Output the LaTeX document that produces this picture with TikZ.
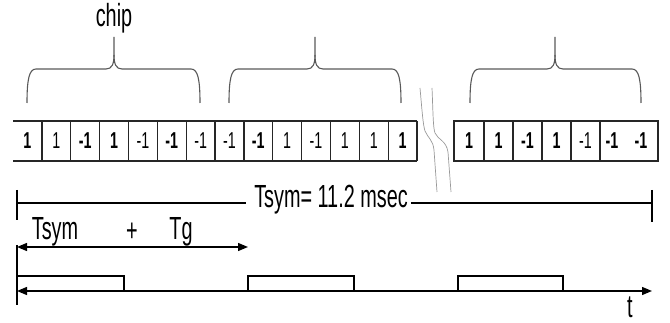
\documentclass[tikz,border=0pt]{standalone}
\usepackage{fontspec}
\setmainfont{Liberation Sans}
\usetikzlibrary{arrows.meta}

\newcommand{\nar}[1]{\scalebox{0.62}[1]{#1}}
% curly brace over a group of chips: left end, middle, right end
\newcommand{\chipbrace}[3]{%
  \draw[brace] (#1,103) .. controls (#1,80) and (#1+2,69) .. (#1+9,69)
    -- (#2-8,69) .. controls (#2-2,69) and (#2,64) .. (#2,55) -- (#2,37);
  \draw[brace] (#3,103) .. controls (#3,80) and (#3-2,69) .. (#3-9,69)
    -- (#2+8,69) .. controls (#2+2,69) and (#2,64) .. (#2,55);
}

\tikzset{
  lbl/.style={inner sep=0pt, font=\fontsize{32}{32}\selectfont},
  bitlbl/.style={inner sep=0pt, font=\fontsize{23}{23}\selectfont},
  brace/.style={draw=black!65, line width=1.1pt},
  wave/.style={draw=black!40, line width=0.7pt},
  cellline/.style={line width=1.3pt, black!85},
  axis/.style={line width=1.3pt},
}

\begin{document}
\begin{tikzpicture}[x=1pt, y=-1pt]
\useasboundingbox (0,0) rectangle (670,323);

% braces
\node[lbl] (chip) at (114,18) {\nar{chip}};
\chipbrace{27}{114}{200}
\chipbrace{229}{315}{401}
\chipbrace{470}{555}{641}

% chip cells, first block
\draw[cellline] (13,121) -- (417,121) (13,161) -- (417,161);
\foreach \i in {1,...,14}
  \draw[cellline] (13+\i*28.86,121) -- (13+\i*28.86,161);
\foreach \v [count=\i] in {\textbf{1},1,\textbf{-1},\textbf{1},-1,\textbf{-1},-1,
                           -1,\textbf{-1},1,-1,1,1,\textbf{1}}
  \node[bitlbl] (a\i) at (13+\i*28.86-14.43,141) {\nar{\v}};

% chip cells, last block
\draw[cellline] (454,121) rectangle (658,161);
\foreach \x in {484,513,542,571,600}
  \draw[cellline] (\x,121) -- (\x,161);
\foreach \v/\x [count=\i] in {\textbf{1}/469,\textbf{1}/498.5,\textbf{-1}/527.5,
                              \textbf{1}/556.5,-1/585.5,\textbf{-1}/612,\textbf{-1}/641}
  \node[bitlbl] (b\i) at (\x,141) {\nar{\v}};

% break marks
\draw[wave] (420,88) .. controls (422,110) and (423,125) .. (425,131)
  .. controls (428,138) and (433,140) .. (434,150) -- (437,192);
\draw[wave] (432,88) .. controls (433,110) and (433,128) .. (435,133)
  .. controls (438,140) and (446,140) .. (448,152) -- (451,192);

% symbol duration
\coordinate (s0) at (17,203);
\coordinate (s1) at (652,203);
\node[lbl] (tsym) at (331,200) {\nar{Tsym= 11.2 msec}};
\draw[axis] (17,190) -- (17,220) (652,190) -- (652,222);
\draw[axis] (s0) -- ([xshift=-8pt]tsym.west |- s0);
\draw[axis] ([xshift=3pt]tsym.east |- s1) -- (s1);

% Tsym + Tg
\node[lbl] (t1) at (55,232) {\nar{Tsym}};
\node[lbl] (t2) at (132,232) {\nar{+}};
\node[lbl] (t3) at (181,232) {\nar{Tg}};
\coordinate (g0) at (17,247);
\coordinate (g1) at (248,247);
\draw[axis, {Triangle[length=10pt,width=8pt]}-{Triangle[length=10pt,width=8pt]}] (g0) -- (g1);

% time axis with pulses
\coordinate (o) at (17,291);
\coordinate (e) at (652,291);
\draw[axis] (17,245) -- (17,305);
\draw[axis, {Triangle[length=10pt,width=8pt]}-{Triangle[length=10pt,width=8pt]}] (o) -- (e);
\draw[axis] (17,276) -- (124,276) -- (124,291);
\draw[axis] (248,291) -- (248,276) -- (354,276) -- (354,291);
\draw[axis] (458,291) -- (458,276) -- (563,276) -- (563,291);
\node[lbl] (t) at (630,307) {\nar{t}};
\end{tikzpicture}
\end{document}
